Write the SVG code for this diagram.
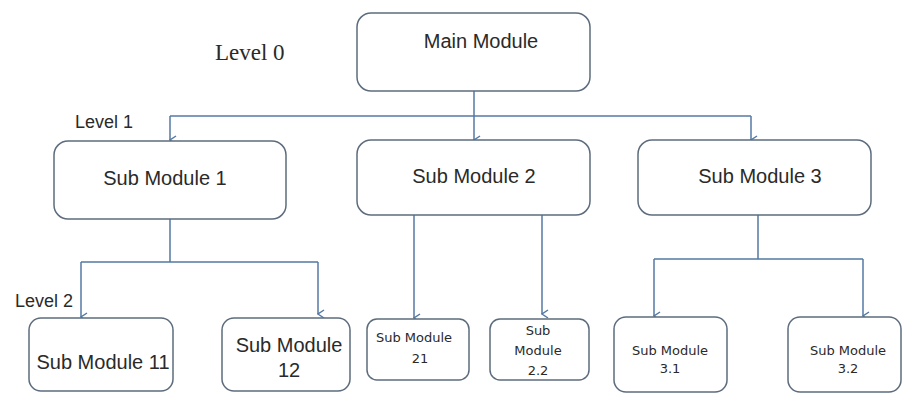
<svg xmlns="http://www.w3.org/2000/svg" width="903" height="394" viewBox="0 0 903 394">
<style>
.box{fill:#fff;stroke:#5d6c7d;stroke-width:1.5}
.t{font-family:"Liberation Sans",Arial,sans-serif;font-size:20px;fill:#2a2a2a;text-anchor:middle}
.s{font-family:"DejaVu Sans",Verdana,sans-serif;font-size:13px;fill:#2a2a2a;text-anchor:middle}
.lv{font-family:"Liberation Sans",Arial,sans-serif;font-size:18px;fill:#2a2a2a}
.lv0{font-family:"Liberation Serif","Times New Roman",serif;font-size:23px;fill:#2a2a2a}
.c{fill:none;stroke:#5479a3;stroke-width:1.5}
</style>
<defs>
<marker id="arr" viewBox="0 0 10 10" refX="5" refY="9" markerWidth="10" markerHeight="10" markerUnits="userSpaceOnUse" orient="auto-start-reverse">
<path d="M1,3 L5,9 L9,3" fill="none" stroke="#5479a3" stroke-width="1.5"/>
</marker>
</defs>
<rect width="903" height="394" fill="#fff"/>
<text class="lv0" x="215" y="60">Level 0</text>
<text class="lv" x="75" y="128">Level 1</text>
<text class="lv" x="15" y="307">Level 2</text>
<g id="connectors">
<path class="c" d="M474,91 V140" marker-end="url(#arr)"/>
<path class="c" d="M170,116 H751"/>
<path class="c" d="M170,116 V140" marker-end="url(#arr)"/>
<path class="c" d="M751,116 V140" marker-end="url(#arr)"/>
<path class="c" d="M170,219 V262 M81,262 H318"/>
<path class="c" d="M81,262 V317" marker-end="url(#arr)"/>
<path class="c" d="M318,262 V314" marker-end="url(#arr)"/>
<path class="c" d="M414,215 V318" marker-end="url(#arr)"/>
<path class="c" d="M542,215 V314" marker-end="url(#arr)"/>
<path class="c" d="M758,215 V259 M654,259 H863"/>
<path class="c" d="M654,259 V316" marker-end="url(#arr)"/>
<path class="c" d="M863,259 V316" marker-end="url(#arr)"/>
</g>
<g id="main">
<rect class="box" x="357" y="13" width="233" height="78" rx="14"/>
<text class="t" x="481" y="48">Main Module</text>
</g>
<g id="sm1">
<rect class="box" x="54" y="141" width="232" height="78" rx="14"/>
<text class="t" x="165" y="185">Sub Module 1</text>
</g>
<g id="sm2">
<rect class="box" x="357" y="140" width="233" height="75" rx="14"/>
<text class="t" x="474" y="183">Sub Module 2</text>
</g>
<g id="sm3">
<rect class="box" x="638" y="140" width="233" height="75" rx="14"/>
<text class="t" x="760" y="183">Sub Module 3</text>
</g>
<g id="sm11">
<rect class="box" x="29" y="318" width="144" height="73" rx="12"/>
<text class="t" x="103" y="369">Sub Module 11</text>
</g>
<g id="sm12">
<rect class="box" x="222" y="318" width="128" height="73" rx="12"/>
<text class="t" x="289" y="352">Sub Module</text>
<text class="t" x="289" y="377">12</text>
</g>
<g id="sm21">
<rect class="box" x="367" y="319" width="102" height="61" rx="10"/>
<text class="s" x="414" y="342">Sub Module</text>
<text class="s" x="420" y="363">21</text>
</g>
<g id="sm22">
<rect class="box" x="490" y="319" width="99" height="61" rx="10"/>
<text class="s" x="538" y="335">Sub</text>
<text class="s" x="538" y="355">Module</text>
<text class="s" x="538" y="375">2.2</text>
</g>
<g id="sm31">
<rect class="box" x="614" y="317" width="113" height="75" rx="12"/>
<text class="s" x="670" y="355">Sub Module</text>
<text class="s" x="670" y="373">3.1</text>
</g>
<g id="sm32">
<rect class="box" x="788" y="317" width="113" height="75" rx="12"/>
<text class="s" x="848" y="355">Sub Module</text>
<text class="s" x="848" y="373">3.2</text>
</g>
</svg>
